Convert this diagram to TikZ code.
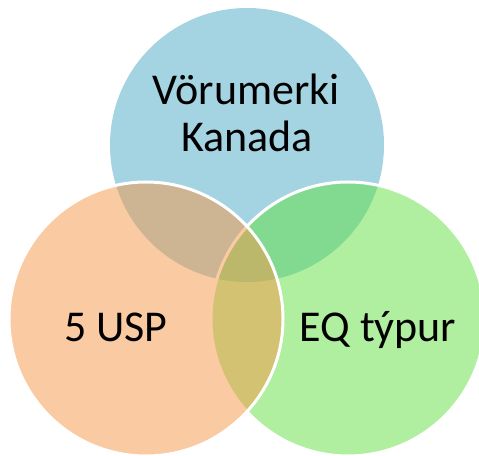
\documentclass[tikz,border=0pt]{standalone}
\usepackage{fontspec}
\setmainfont{Carlito}
\definecolor{cblue}{RGB}{75,171,198}
\definecolor{cgreen}{RGB}{97,224,65}
\definecolor{corange}{RGB}{247,151,70}
\tikzset{
  venn/.style={fill opacity=0.5, draw opacity=1, line width=3pt},
  lbl/.style={font=\fontsize{44}{47}\selectfont, text=black, inner sep=0pt, anchor=base}
}
\begin{document}
\begin{tikzpicture}[x=1pt,y=1pt]
\useasboundingbox (0,0) rectangle (479,455);
\fill[white] (0,0) rectangle (479,455);
\begin{scope}
\clip (0,0) rectangle (479,455);
\fill[cblue, fill opacity=0.5] (247,310) circle[radius=137];
\draw[venn, white, fill=cgreen] (348,136) circle[radius=137];
\draw[venn, white, fill=corange] (146,136) circle[radius=137];
\end{scope}
\node[lbl] (t1) at (246,350) {Vörumerki};
\node[lbl] (t2) at (247,303) {Kanada};
\node[lbl] (t3) at (116,113) {5 USP};
\node[lbl] (t4) at (378,113) {EQ týpur};
\end{tikzpicture}
\end{document}
